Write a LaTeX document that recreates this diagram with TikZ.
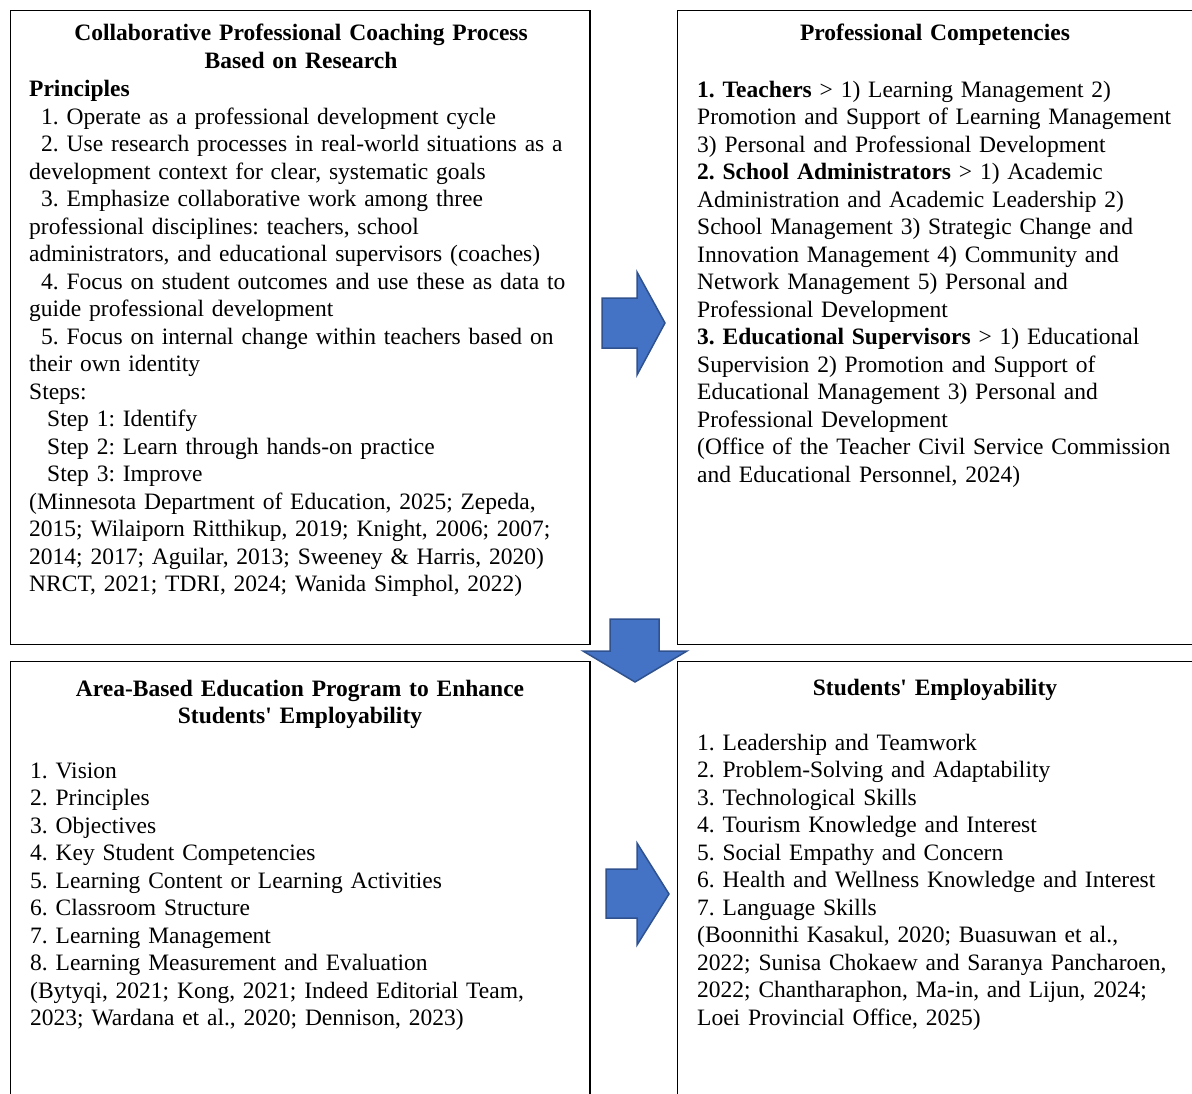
\documentclass[tikz,border=0pt]{standalone}
\usepackage{fontspec}
\setmainfont{Liberation Serif}
\usepackage{tikz}
\usetikzlibrary{positioning}

\definecolor{arrowfill}{RGB}{68,114,196}
\definecolor{arrowedge}{RGB}{47,82,143}
\frenchspacing

\begin{document}
\begin{tikzpicture}[x=1pt,y=-1pt,
		panel/.style={draw=black,line width=1.8pt},
		bodytext/.style={anchor=base west,inner sep=0pt,align=left,text width=#1,
			font=\fontsize{23.5}{27.5}\selectfont},
		headtext/.style={anchor=base,inner sep=0pt,align=center,text width=540pt,
			font=\fontsize{23.5}{27.5}\selectfont\bfseries},
		blockarrow/.style={fill=arrowfill,draw=arrowedge,line width=1.5pt,line join=miter}]
	\useasboundingbox (0,0) rectangle (1192,1093);
	\clip (0,0) rectangle (1192,1093);
	
	% ---------- the four panels ----------
	\draw[panel] (10.5,10.5) rectangle (590,644.5);
	\draw[panel] (677.5,10.5) rectangle (1210,644.5);
	\draw[panel] (10.5,661.5) rectangle (590,1110);
	\draw[panel] (677.5,661.5) rectangle (1210,1110);
	
	% ---------- top left: coaching process ----------
	\node[headtext] (coachtitle) at (301,40.5) {Collaborative Professional Coaching Process\\Based on Research};
	\node[bodytext=560pt] (coachtext) at (29,96.5) {\textbf{Principles}\\
		\hspace*{12pt}1. Operate as a professional development cycle\\
		\hspace*{12pt}2. Use research processes in real-world situations as a\\
		development context for clear, systematic goals\\
		\hspace*{12pt}3. Emphasize collaborative work among three\\
		professional disciplines: teachers, school\\
		administrators, and educational supervisors (coaches)\\
		\hspace*{12pt}4. Focus on student outcomes and use these as data to\\
		guide professional development\\
		\hspace*{12pt}5. Focus on internal change within teachers based on\\
		their own identity\\
		Steps:\\
		\hspace*{18pt}Step 1: Identify\\
		\hspace*{18pt}Step 2: Learn through hands-on practice\\
		\hspace*{18pt}Step 3: Improve\\
		(Minnesota Department of Education, 2025; Zepeda,\\
		2015; Wilaiporn Ritthikup, 2019; Knight, 2006; 2007;\\
		2014; 2017; Aguilar, 2013; Sweeney \& Harris, 2020)\\
		NRCT, 2021; TDRI, 2024; Wanida Simphol, 2022)};
	
	% ---------- top right: competencies ----------
	\node[headtext] (comptitle) at (935,40.5) {Professional Competencies};
	\node[bodytext=520pt] (comptext) at (697,97) {\textbf{1. Teachers} > 1) Learning Management 2)\\
		Promotion and Support of Learning Management\\
		3) Personal and Professional Development\\
		\textbf{2. School Administrators} > 1) Academic\\
		Administration and Academic Leadership 2)\\
		School Management 3) Strategic Change and\\
		Innovation Management 4) Community and\\
		Network Management 5) Personal and\\
		Professional Development\\
		\textbf{3. Educational Supervisors} > 1) Educational\\
		Supervision 2) Promotion and Support of\\
		Educational Management 3) Personal and\\
		Professional Development\\
		(Office of the Teacher Civil Service Commission\\
		and Educational Personnel, 2024)};
	
	% ---------- bottom left: area-based program ----------
	\node[headtext] (abetitle) at (300,696) {Area-Based Education Program to Enhance\\Students\textquotesingle{} Employability};
	\node[bodytext=560pt] (abetext) at (30,778) {1. Vision\\
		2. Principles\\
		3. Objectives\\
		4. Key Student Competencies\\
		5. Learning Content or Learning Activities\\
		6. Classroom Structure\\
		7. Learning Management\\
		8. Learning Measurement and Evaluation\\
		(Bytyqi, 2021; Kong, 2021; Indeed Editorial Team,\\
		2023; Wardana et al., 2020; Dennison, 2023)};
	
	% ---------- bottom right: employability ----------
	\node[headtext] (emptitle) at (935,695) {Students\textquotesingle{} Employability};
	\node[bodytext=520pt] (emptext) at (697,750) {1. Leadership and Teamwork\\
		2. Problem-Solving and Adaptability\\
		3. Technological Skills\\
		4. Tourism Knowledge and Interest\\
		5. Social Empathy and Concern\\
		6. Health and Wellness Knowledge and Interest\\
		7. Language Skills\\
		(Boonnithi Kasakul, 2020; Buasuwan et al.,\\
		2022; Sunisa Chokaew and Saranya Pancharoen,\\
		2022; Chantharaphon, Ma-in, and Lijun, 2024;\\
		Loei Provincial Office, 2025)};
	
	% ---------- block arrows ----------
	% coaching -> competencies
	\draw[blockarrow] (602,298) -- (637,298) -- (637,272) -- (665,323) -- (637,375) -- (637,348) -- (602,348) -- cycle;
	% competencies -> program
	\draw[blockarrow] (610,619) -- (659,619) -- (659,651) -- (687,651) -- (635,682) -- (583,651) -- (610,651) -- cycle;
	% program -> employability
	\draw[blockarrow] (606,869) -- (637,869) -- (637,843) -- (669,894) -- (637,945) -- (637,918) -- (606,918) -- cycle;
\end{tikzpicture}
\end{document}
